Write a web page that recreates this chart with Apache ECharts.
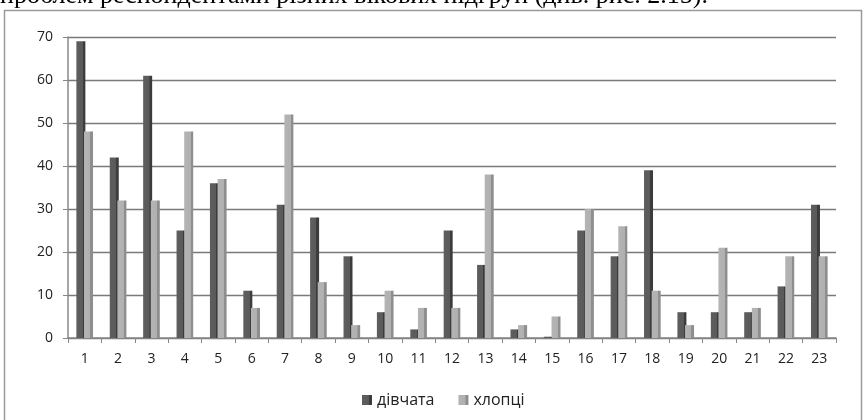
<!DOCTYPE html>
<html><head><meta charset="utf-8">
<script src="https://cdn.jsdelivr.net/npm/echarts@6/dist/echarts.min.js"></script>
<style>html,body{margin:0;padding:0;background:#fff}#c{width:866px;height:420px}</style>
</head><body><div id="c"></div>
<script>
const categories = ['1','2','3','4','5','6','7','8','9','10','11','12','13','14','15','16','17','18','19','20','21','22','23'];
const girls = [69,42,61,25,36,11,31,28,19,6,2,25,17,2,0.3,25,19,39,6,6,6,12,31];
const boys  = [48,32,32,48,37,7,52,13,3,11,7,7,38,3,5,30,26,11,3,21,7,19,19];
const yTicks = [0,10,20,30,40,50,60,70];
const seriesNames = ['дівчата','хлопці'];
const headerText = 'проблем респондентами різних вікових підгруп (див. рис. 2.15).';

const chart = echarts.init(document.getElementById('c'));
chart.setOption({
  animation:false,
  backgroundColor:'#fff',
  graphic:[
    {type:'rect',shape:{x:4.5,y:10.5,width:857,height:420},style:{fill:'none',stroke:'#9a9a9a',lineWidth:1.5}},
    {type:'text',x:0,y:-4,style:{text:headerText,font:'26px "Liberation Serif"',fill:'#000',verticalAlign:'middle'}}
  ],
  legend:{top:387,left:357,itemWidth:10,itemHeight:10,itemGap:24,icon:'rect',
    textStyle:{fontFamily:'Open Sans',fontSize:16,color:'#222'},data:seriesNames},
  grid:{left:68,right:30,top:37,bottom:82},
  xAxis:{type:'category',data:categories,
    axisLine:{lineStyle:{color:'#888',width:1.5}},
    axisTick:{show:true,length:5,lineStyle:{color:'#888'}},
    axisLabel:{fontFamily:'Open Sans',fontSize:14,color:'#222',margin:14}},
  yAxis:{type:'value',min:yTicks[0],max:yTicks[yTicks.length-1],interval:10,
    axisLine:{show:true,lineStyle:{color:'#888',width:1.5}},
    axisTick:{show:true,length:5,lineStyle:{color:'#888'}},
    splitLine:{lineStyle:{color:'#7a7a7a',width:1.3}},
    axisLabel:{fontFamily:'Open Sans',fontSize:14,color:'#222',margin:15}},
  series:[
    {name:seriesNames[0],type:'bar',data:girls,barWidth:9,barGap:'-15%',
     itemStyle:{color:{type:'linear',x:0,y:0,x2:1,y2:0,colorStops:[{offset:0,color:'#5e5e5e'},{offset:0.7,color:'#5a5a5a'},{offset:0.71,color:'#3c3c3c'},{offset:1,color:'#3c3c3c'}]}}},
    {name:seriesNames[1],type:'bar',data:boys,barWidth:9,
     itemStyle:{color:{type:'linear',x:0,y:0,x2:1,y2:0,colorStops:[{offset:0,color:'#b4b4b4'},{offset:0.7,color:'#b0b0b0'},{offset:0.71,color:'#8e8e8e'},{offset:1,color:'#8e8e8e'}]}}}
  ]
});
</script></body></html>
